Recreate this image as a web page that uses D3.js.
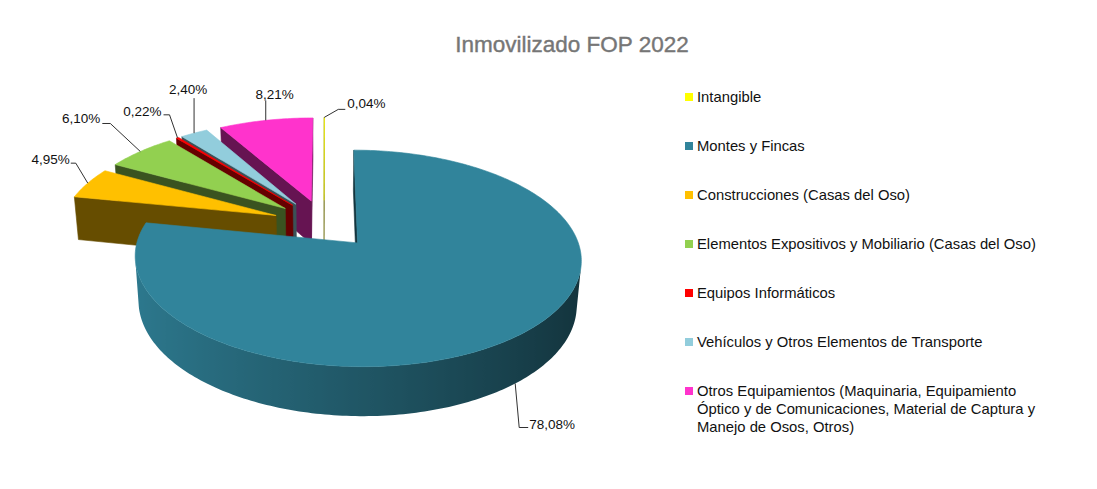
<!DOCTYPE html>
<html>
<head>
<meta charset="utf-8">
<script src="https://cdn.jsdelivr.net/npm/d3@7"></script>
<style>
  body { margin: 0; background: #fff; }
  text { font-family: "Liberation Sans", Arial, sans-serif; }
</style>
</head>
<body>
<svg id="chart" width="1097" height="489"></svg>
<script>
// chart data
var categories = [
  "Intangible",
  "Montes y Fincas",
  "Construcciones (Casas del Oso)",
  "Elementos Expositivos y Mobiliario (Casas del Oso)",
  "Equipos Informáticos",
  "Vehículos y Otros Elementos de Transporte",
  "Otros Equipamientos (Maquinaria, Equipamiento Óptico y de Comunicaciones, Material de Captura y Manejo de Osos, Otros)"
];
var legendLines = [
  ["Intangible"],
  ["Montes y Fincas"],
  ["Construcciones (Casas del Oso)"],
  ["Elementos Expositivos y Mobiliario (Casas del Oso)"],
  ["Equipos Informáticos"],
  ["Vehículos y Otros Elementos de Transporte"],
  ["Otros Equipamientos (Maquinaria, Equipamiento",
   "Óptico y de Comunicaciones, Material de Captura y",
   "Manejo de Osos, Otros)"]
];
var shares = [0.04, 78.08, 4.95, 6.10, 0.22, 2.40, 8.21];
var colours = ["#FFFF00", "#31849B", "#FFC000", "#92D050", "#FF0000", "#92CDDC", "#FF33CC"];
var title = "Inmovilizado FOP 2022";

// label leader layout: elbow offset, end offset, text anchor, text dx, dy
var labelLayout = [
  { elbow: [14, -8],   end: [21, -8],   anchor: "start",  dx: 2,  dy: -1 },
  { elbow: [4, 44],    end: [13, 44],   anchor: "start",  dx: 1,  dy: 1 },
  { elbow: [-12, -20], end: [-17, -20], anchor: "end",    dx: -1, dy: 1 },
  { elbow: [-30, -28], end: [-38, -28], anchor: "end",    dx: -2, dy: 0 },
  { elbow: [-8, -23],  end: [-14, -23], anchor: "end",    dx: -2, dy: 1 },
  { elbow: [0, -35],   end: [0, -35],   anchor: "middle", dx: -6, dy: -4 },
  { elbow: [0, -20],   end: [0, -20],   anchor: "middle", dx: 9,  dy: -1 }
];

var svg = d3.select("#chart");
var defs = svg.append("defs");

// 3d view settings
var tilt = 27.9 * Math.PI / 180,
  sinA = Math.sin(tilt),
  cosA = Math.cos(tilt),
  camDist = 6.33,
  radius = 215,
  cx = 324,
  cy = 223.7,
  depth = 0.235,
  explode = 0.24;

var toCam = function (p) {
    return [p[0], p[1] * cosA - p[2] * sinA, p[1] * sinA + p[2] * cosA];
  },
  project = function (p) {
    var c = toCam(p), s = camDist / (camDist - c[2]);
    return [cx + radius * c[0] * s, cy - radius * c[1] * s];
  },
  facing = function (n, p) {
    var c = toCam(p),
      nc = [n[0], n[1] * cosA - n[2] * sinA, n[1] * sinA + n[2] * cosA];
    return nc[0] * -c[0] + nc[1] * -c[1] + nc[2] * (camDist - c[2]) > 0;
  },
  shade = function (col, k) {
    var c = d3.rgb(col);
    return d3.rgb(c.r * k, c.g * k, c.b * k).formatHex();
  },
  wallShade = function (t) {
    return 0.65 - 0.27 * Math.sin(t);
  },
  line = d3.line();

var arcs = d3.pie().sort(null).value(function (d) { return d; })(shares);

var slices = arcs.map(function (a, i) {
  var m = (a.startAngle + a.endAngle) / 2,
    ox = explode * Math.sin(m),
    oz = -explode * Math.cos(m),
    rim = function (t, y) { return [ox + Math.sin(t), y, oz - Math.cos(t)]; },
    ctr = function (y) { return [ox, y, oz]; },
    a0 = a.startAngle, a1 = a.endAngle,
    steps = Math.max(1, Math.ceil((a1 - a0) / (Math.PI / 180))),
    walls = [], top = [ctr(0)], runs = [], run = null, k, t, mid;

  for (k = 0; k <= steps; k++) {
    top.push(rim(a0 + (a1 - a0) * k / steps, 0));
  }
  // outer curved wall, split in visible runs
  for (k = 0; k < steps; k++) {
    t = a0 + (a1 - a0) * (k + 0.5) / steps;
    if (facing([Math.sin(t), 0, -Math.cos(t)], rim(t, -depth / 2))) {
      if (!run) {
        run = [a0 + (a1 - a0) * k / steps];
        runs.push(run);
      }
      run.push(a0 + (a1 - a0) * (k + 1) / steps);
    } else {
      run = null;
    }
  }
  runs.forEach(function (r, j) {
    var topPts = r.map(function (tt) { return project(rim(tt, 0)); }),
      botPts = r.map(function (tt) { return project(rim(tt, -depth)); }),
      xs = topPts.map(function (p) { return p[0]; }),
      x0 = d3.min(xs), x1 = d3.max(xs),
      id = "wall" + i + "_" + j,
      grad = defs.append("linearGradient")
        .attr("id", id)
        .attr("gradientUnits", "userSpaceOnUse")
        .attr("x1", x0).attr("x2", x1).attr("y1", 0).attr("y2", 0),
      stops = r.map(function (tt, q) {
        return { o: x1 > x0 ? (xs[q] - x0) / (x1 - x0) : 0, c: shade(colours[i], wallShade(tt)) };
      }).sort(function (p, q) { return p.o - q.o; });
    grad.selectAll("stop").data(stops).join("stop")
      .attr("offset", function (d) { return d.o; })
      .attr("stop-color", function (d) { return d.c; });
    mid = rim(r[Math.floor(r.length / 2)], -depth / 2);
    walls.push({
      d: line(topPts.concat(botPts.reverse())) + "Z",
      fill: "url(#" + id + ")",
      stroke: "none",
      z: toCam(mid)[2]
    });
  });
  // radial walls
  [[a0, [-Math.cos(a0), 0, -Math.sin(a0)]], [a1, [Math.cos(a1), 0, Math.sin(a1)]]]
    .forEach(function (w) {
      var tt = w[0], c = shade(colours[i], 0.4);
      mid = [ox + 0.5 * Math.sin(tt), -depth / 2, oz - 0.5 * Math.cos(tt)];
      if (facing(w[1], mid)) {
        walls.push({
          d: line([ctr(0), rim(tt, 0), rim(tt, -depth), ctr(-depth)].map(project)) + "Z",
          fill: c,
          stroke: c,
          z: toCam(mid)[2]
        });
      }
    });
  walls.sort(function (p, q) { return p.z - q.z; });

  return {
    index: i,
    walls: walls,
    top: top,
    anchor: project(rim(m, Math.cos(m) > 0 ? 0 : -depth)),
    z: toCam([ox + 0.5 * Math.sin(m), 0, oz - 0.5 * Math.cos(m)])[2]
  };
});

var pieG = svg.append("g");
slices.slice().sort(function (p, q) { return p.z - q.z; }).forEach(function (s) {
  var g = pieG.append("g").attr("class", "slice"),
    thin = shares[s.index] < 0.1;
  s.walls.forEach(function (w) {
    g.append("path")
      .attr("d", w.d)
      .attr("fill", w.fill)
      .attr("stroke", w.stroke)
      .attr("stroke-width", thin ? 0.3 : 0.6)
      .attr("stroke-linejoin", "round");
  });
  g.append("path")
    .attr("d", line(s.top.map(project)) + "Z")
    .attr("fill", colours[s.index])
    .attr("stroke", colours[s.index])
    .attr("stroke-width", thin ? 0.4 : 0.6)
    .attr("stroke-linejoin", "round");
});

// data labels
var fmt = function (v) { return v.toFixed(2).replace(".", ",") + "%"; };
var labelG = svg.append("g");
slices.forEach(function (s) {
  var L = labelLayout[s.index], a = s.anchor,
    e = [a[0] + L.elbow[0], a[1] + L.elbow[1]],
    b = [a[0] + L.end[0], a[1] + L.end[1]];
  labelG.append("path")
    .attr("d", line([a, e, b]))
    .attr("fill", "none")
    .attr("stroke", "#1a1a1a")
    .attr("stroke-width", 0.9);
  labelG.append("text")
    .attr("x", b[0] + L.dx)
    .attr("y", b[1] + L.dy)
    .attr("text-anchor", L.anchor)
    .attr("font-size", 13.5)
    .attr("fill", "#111")
    .text(fmt(shares[s.index]));
});

// title
svg.append("text")
  .attr("x", 572)
  .attr("y", 52)
  .attr("text-anchor", "middle")
  .attr("font-size", 22.5)
  .attr("fill", "#767676")
  .attr("stroke", "#767676")
  .attr("stroke-width", 0.4)
  .text(title);

// legend
var legendY = d3.scalePoint().domain(d3.range(categories.length)).range([97, 391]);
var leg = svg.append("g").selectAll("g")
  .data(categories)
  .join("g")
  .attr("transform", function (d, i) { return "translate(685," + legendY(i) + ")"; });
leg.append("rect")
  .attr("x", 0).attr("y", -4)
  .attr("width", 8).attr("height", 8)
  .attr("fill", function (d, i) { return colours[i]; });
leg.append("text")
  .attr("x", 12)
  .attr("font-size", 14.8)
  .attr("fill", "#111")
  .selectAll("tspan")
  .data(function (d, i) { return legendLines[i]; })
  .join("tspan")
  .attr("x", 12)
  .attr("y", function (d, j) { return 5 + j * 18; })
  .text(function (d) { return d; });
</script>
</body>
</html>
